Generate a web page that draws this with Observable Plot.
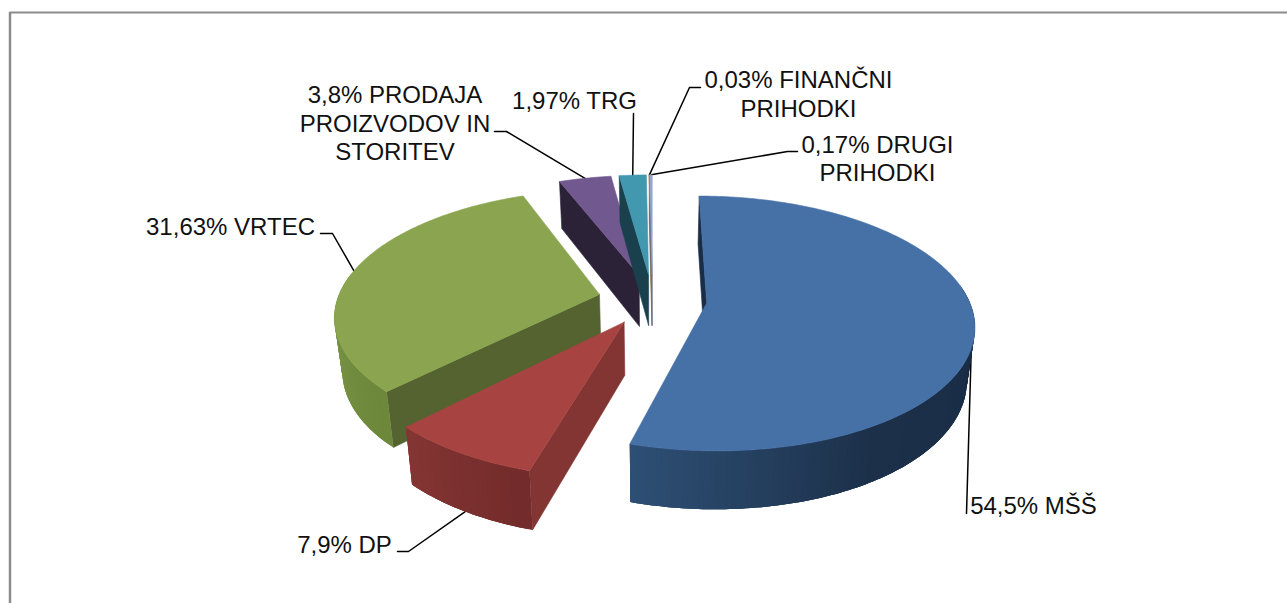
<!DOCTYPE html>
<html>
<head>
<meta charset="utf-8">
<script src="https://cdn.jsdelivr.net/npm/d3@7"></script>
<script src="https://cdn.jsdelivr.net/npm/@observablehq/plot@0.6"></script>
<style>
html,body{margin:0;padding:0;background:#fff;overflow:hidden}
svg{display:block}
</style>
</head>
<body>
<div id="chart"></div>
<script>
// ---- data ----
const categories = ["MŠŠ", "DP", "VRTEC", "PRODAJA\nPROIZVODOV IN\nSTORITEV", "TRG", "FINANČNI\nPRIHODKI", "DRUGI\nPRIHODKI"];
const shares = [54.5, 7.9, 31.63, 3.8, 1.97, 0.03, 0.17];
const labelTexts = [
  "54,5% MŠŠ", "7,9% DP", "31,63% VRTEC",
  "3,8% PRODAJA\nPROIZVODOV IN\nSTORITEV", "1,97% TRG",
  "0,03% FINANČNI\nPRIHODKI", "0,17% DRUGI\nPRIHODKI"
];

// ---- styles ----
const topColors = ["#4671a7", "#a74442", "#8aa44f", "#71588f", "#4198af", "#db843d", "#93a9cf"];
const faceColors = ["#1a2d46", "#823533", "#54632f", "#2c2238", "#1a404d", "#8a5226", "#66748f"];
const wallStops = [
  ["#1a2d46", "#1a2d46", "#1a2d46", "#1c3049", "#2e5076"],
  ["#732c2b", "#853634"],
  ["#6d873b", "#7b9646", "#7b9646", "#6d873b"],
  ["#2c2238", "#2c2238"], ["#1a404d", "#1a404d"], ["#8a5226", "#8a5226"], ["#66748f", "#66748f"]
];
const paintOrder = [3, 4, 5, 6, 2, 0, 1];

// ---- view of the tilted pie ----
const view = {x0: 652, y0: 299, a: 262, s: 123, k: 0.159, explode: 0.208, depth: 52, shrink: 0.025};
function project(u, v, z) {
  const w = 1 - view.k * v;
  let x = view.x0 + view.a * u / w, y = view.y0 + view.s * v / w;
  if (z > 0) {
    const f = 1 - view.shrink * z;
    x = view.x0 + (x - view.x0) * f;
    y = view.y0 + (y - view.y0) * f + view.depth * z / w;
  }
  return [x, y];
}

// slices, clockwise from twelve o'clock
const total = d3.sum(shares);
let running = 0;
const slices = shares.map((v, i) => {
  const start = running / total * 2 * Math.PI;
  running += v;
  const end = running / total * 2 * Math.PI;
  const mid = (start + end) / 2;
  return {i, start, end, mid, ou: view.explode * Math.sin(mid), ov: -view.explode * Math.cos(mid)};
});
const rim = (s, t, z) => project(s.ou + Math.sin(t), s.ov - Math.cos(t), z);
const apex = (s, z) => project(s.ou, s.ov, z);
const arcAngles = (a, b) => {
  const n = Math.max(2, Math.ceil((b - a) / (Math.PI / 180)));
  return d3.range(n + 1).map(j => a + (b - a) * j / n);
};

// polygons for the marks: every point derives from the shares above
const polys = [];
let pid = 0;
function addPoly(points, color, sw) {
  const id = pid++;
  [...points, points[0]].forEach(p => polys.push({x: p[0], y: p[1], id, color, sw}));
}
for (const i of paintOrder) {
  const s = slices[i];
  // radial side face at the slice's opening edge
  addPoly([apex(s, 0), rim(s, s.start, 0), rim(s, s.start, 1), apex(s, 1)], faceColors[i], 0.6);
  // outer wall, shaded in overlapping segments so that no seams show
  const shade = d3.piecewise(d3.interpolateRgb, wallStops[i]);
  const angles = arcAngles(s.start, s.end);
  for (let j = angles.length - 2; j >= 0; j--) {
    const t0 = angles[j], t1 = angles[j + 1];
    if (Math.cos((t0 + t1) / 2) > 0.15) continue;
    const t2 = angles[Math.min(j + 3, angles.length - 1)];
    const arc = angles.filter(t => t >= t0 && t <= t2);
    addPoly([...arc.map(t => rim(s, t, 0)), ...arc.slice().reverse().map(t => rim(s, t, 1))],
            d3.color(shade(j / (angles.length - 2 || 1))).formatHex(), 0);
  }
  // top face
  addPoly([apex(s, 0), ...angles.map(t => rim(s, t, 0))], topColors[i], 0.6);
}

// ---- annotation layout (text centres, leader elbows, anchor depth on the rim) ----
const labelLayout = [
  {cx: 1033, cy: 504, elbow: [[966, 513]], depth: 0.38},
  {cx: 344, cy: 543, elbow: [[408, 551], [397, 551]], depth: 1},
  {cx: 230, cy: 225, elbow: [[332, 233], [320, 233]], depth: 0},
  {cx: 394.5, cy: 122, elbow: [[506, 131], [494, 131]], depth: 0},
  {cx: 574, cy: 99, elbow: [[633, 113]], depth: 0},
  {cx: 798, cy: 93, elbow: [[689, 87], [700, 87]], depth: 0},
  {cx: 877, cy: 157.5, elbow: [[787, 151], [797, 151]], depth: 0}
];
const leaders = labelLayout.flatMap((l, i) => {
  const a = rim(slices[i], slices[i].mid, l.depth);
  return [a, ...l.elbow].map(p => ({x: p[0], y: p[1], i}));
});
const labels = labelLayout.map((l, i) => ({x: l.cx, y: l.cy, text: labelTexts[i]}));

const frameLeft = 9.5, frameTop = 12;
const plot = Plot.plot({
  width: 1287, height: 603,
  margin: 0,
  x: {domain: [0, 1287], range: [0, 1287], axis: null},
  y: {domain: [0, 603], range: [0, 603], axis: null},
  color: {type: "identity"},
  style: {fontFamily: "'Liberation Sans', Arial, sans-serif", background: "#fff"},
  marks: [
    Plot.ruleX([frameLeft], {y1: frameTop, y2: 603, stroke: "#8c8c8c", strokeWidth: 2.5}),
    Plot.ruleY([frameTop], {x1: frameLeft, x2: 1287, stroke: "#8c8c8c", strokeWidth: 2}),
    Plot.line(leaders, {x: "x", y: "y", z: "i", stroke: "#000", strokeWidth: 1.5, curve: "linear"}),
    Plot.line(polys, {x: "x", y: "y", z: "id", fill: "color", stroke: "color", strokeWidth: "sw", curve: "linear"}),
    Plot.text(labels, {x: "x", y: "y", text: "text", fontSize: 24, lineHeight: 1.19, fill: "#111", textAnchor: "middle", lineAnchor: "middle"})
  ]
});
document.getElementById("chart").appendChild(plot);
</script>
</body>
</html>
